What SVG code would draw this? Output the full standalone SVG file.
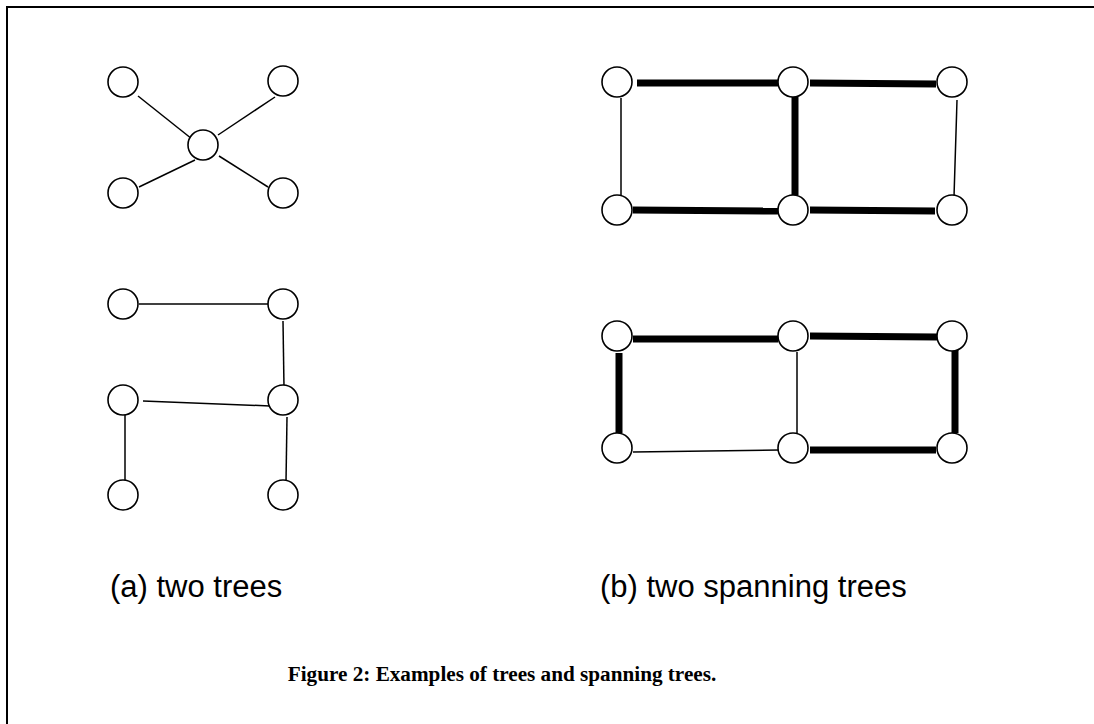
<svg xmlns="http://www.w3.org/2000/svg" width="1094" height="724" viewBox="0 0 1094 724">
  <style>
    .node { fill: #fff; stroke: #000; stroke-width: 1.6; }
    .thin { stroke: #000; stroke-width: 1.5; fill: none; }
    .thick { stroke: #000; stroke-width: 7; fill: none; }
    .label { font-family: "Liberation Sans", Arial, sans-serif; font-size: 31px; fill: #000; }
    .caption { font-family: "Liberation Serif", "Times New Roman", serif; font-size: 21.2px; font-weight: bold; fill: #000; }
  </style>

  <rect width="1094" height="724" fill="#fff"/>
  <!-- frame: top and left edges only -->
  <path d="M7,724 V7 H1094" fill="none" stroke="#000" stroke-width="2"/>

  <g id="connectors">
    <!-- (a) star tree -->
    <line class="thin" x1="138" y1="96" x2="192" y2="139"/>
    <line class="thin" x1="275" y1="97" x2="218" y2="135"/>
    <line class="thin" x1="139" y1="187" x2="195" y2="160"/>
    <line class="thin" x1="219" y1="156" x2="268" y2="187"/>
    <!-- (a) path tree -->
    <line class="thin" x1="139" y1="304" x2="270" y2="304"/>
    <line class="thin" x1="283" y1="321" x2="284" y2="388"/>
    <line class="thin" x1="143" y1="401" x2="270" y2="406"/>
    <line class="thin" x1="125" y1="415" x2="125" y2="482"/>
    <line class="thin" x1="287" y1="417" x2="286" y2="482"/>
    <!-- (b) first spanning tree -->
    <line class="thick" x1="637" y1="83" x2="778" y2="83"/>
    <line class="thick" x1="810" y1="83" x2="936" y2="84"/>
    <line class="thick" x1="795" y1="97" x2="795" y2="195"/>
    <line class="thick" x1="633" y1="210" x2="778" y2="211"/>
    <line class="thick" x1="810" y1="210" x2="935" y2="211"/>
    <line class="thin" x1="621" y1="98" x2="621" y2="197"/>
    <line class="thin" x1="957" y1="100" x2="954" y2="197"/>
    <!-- (b) second spanning tree -->
    <line class="thick" x1="633" y1="339" x2="778" y2="339"/>
    <line class="thick" x1="810" y1="336" x2="937" y2="337"/>
    <line class="thick" x1="619" y1="353" x2="619" y2="433"/>
    <line class="thick" x1="955" y1="350" x2="955" y2="433"/>
    <line class="thick" x1="810" y1="450" x2="936" y2="450"/>
    <line class="thin" x1="633" y1="452" x2="780" y2="450"/>
    <line class="thin" x1="797" y1="352" x2="797" y2="433"/>
  </g>

  <!-- (a) star tree nodes -->
  <g id="a1-tl"><circle class="node" cx="123" cy="82" r="15"/></g>
  <g id="a1-tr"><circle class="node" cx="283" cy="81" r="15"/></g>
  <g id="a1-c"><circle class="node" cx="203" cy="145" r="15"/></g>
  <g id="a1-bl"><circle class="node" cx="123" cy="193" r="15"/></g>
  <g id="a1-br"><circle class="node" cx="283" cy="193" r="15"/></g>

  <!-- (a) path tree nodes -->
  <g id="a2-tl"><circle class="node" cx="123" cy="304" r="15"/></g>
  <g id="a2-tr"><circle class="node" cx="283" cy="304" r="15"/></g>
  <g id="a2-ml"><circle class="node" cx="123" cy="400" r="15"/></g>
  <g id="a2-mr"><circle class="node" cx="283" cy="400" r="15"/></g>
  <g id="a2-bl"><circle class="node" cx="123" cy="495" r="15"/></g>
  <g id="a2-br"><circle class="node" cx="283" cy="495" r="15"/></g>

  <!-- (b) grid, first copy -->
  <g id="b1-tl"><circle class="node" cx="617" cy="82" r="15"/></g>
  <g id="b1-tm"><circle class="node" cx="793" cy="82" r="15"/></g>
  <g id="b1-tr"><circle class="node" cx="952" cy="82" r="15"/></g>
  <g id="b1-bl"><circle class="node" cx="617" cy="210" r="15"/></g>
  <g id="b1-bm"><circle class="node" cx="793" cy="210" r="15"/></g>
  <g id="b1-br"><circle class="node" cx="952" cy="210" r="15"/></g>

  <!-- (b) grid, second copy -->
  <g id="b2-tl"><circle class="node" cx="617" cy="336" r="15"/></g>
  <g id="b2-tm"><circle class="node" cx="793" cy="336" r="15"/></g>
  <g id="b2-tr"><circle class="node" cx="952" cy="336" r="15"/></g>
  <g id="b2-bl"><circle class="node" cx="617" cy="448" r="15"/></g>
  <g id="b2-bm"><circle class="node" cx="793" cy="448" r="15"/></g>
  <g id="b2-br"><circle class="node" cx="952" cy="448" r="15"/></g>

  <g id="labels">
    <text class="label" x="110" y="597">(a) two trees</text>
    <text class="label" x="600" y="597">(b) two spanning trees</text>
    <text class="caption" x="502" y="681" text-anchor="middle">Figure 2: Examples of trees and spanning trees.</text>
  </g>
</svg>
